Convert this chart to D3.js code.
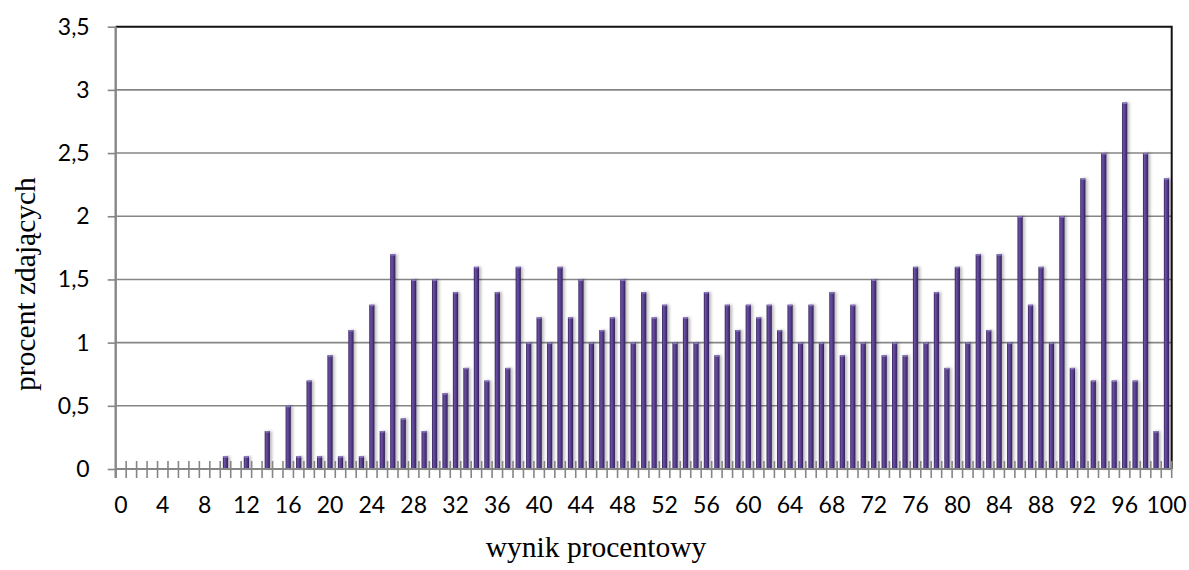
<!DOCTYPE html>
<html>
<head>
<meta charset="utf-8">
<script src="https://cdnjs.cloudflare.com/ajax/libs/d3/7.8.5/d3.min.js"></script>
<style>
  html, body { margin: 0; padding: 0; background: #fff; }
  svg { display: block; }
</style>
</head>
<body>
<svg id="chart" width="1189" height="570"></svg>
<script>
// ---- data ----
const categories = d3.range(0, 101); // wynik procentowy 0..100
const values = [
  0, 0, 0, 0, 0, 0, 0, 0, 0, 0,            // 0-9
  0.1, 0, 0.1, 0, 0.3, 0, 0.5, 0.1, 0.7, 0.1, // 10-19
  0.9, 0.1, 1.1, 0.1, 1.3, 0.3, 1.7, 0.4, 1.5, 0.3, // 20-29
  1.5, 0.6, 1.4, 0.8, 1.6, 0.7, 1.4, 0.8, 1.6, 1.0, // 30-39
  1.2, 1.0, 1.6, 1.2, 1.5, 1.0, 1.1, 1.2, 1.5, 1.0, // 40-49
  1.4, 1.2, 1.3, 1.0, 1.2, 1.0, 1.4, 0.9, 1.3, 1.1, // 50-59
  1.3, 1.2, 1.3, 1.1, 1.3, 1.0, 1.3, 1.0, 1.4, 0.9, // 60-69
  1.3, 1.0, 1.5, 0.9, 1.0, 0.9, 1.6, 1.0, 1.4, 0.8, // 70-79
  1.6, 1.0, 1.7, 1.1, 1.7, 1.0, 2.0, 1.3, 1.6, 1.0, // 80-89
  2.0, 0.8, 2.3, 0.7, 2.5, 0.7, 2.9, 0.7, 2.5, 0.3, // 90-99
  2.3                                       // 100
];
const xTickLabels = d3.range(0, 101, 4);
const yTicks = [0, 0.5, 1, 1.5, 2, 2.5, 3, 3.5];
const xTitle = "wynik procentowy";
const yTitle = "procent zdających";

// ---- layout ----
const svg = d3.select("#chart");
const plot = { left: 115.7, right: 1171.7, top: 26.7, bottom: 469 };
const tickFont = "Lato, 'Open Sans', sans-serif";
const titleFont = "'Liberation Serif', 'Times New Roman', serif";
const gridColor = "#868686";

const x = d3.scaleBand()
  .domain(categories)
  .range([plot.left, plot.right])
  .paddingInner(0.5)
  .paddingOuter(0.25);
const y = d3.scaleLinear().domain([0, 3.5]).range([plot.bottom, plot.top]);

// defs
const defs = svg.append("defs");
const grad = defs.append("linearGradient").attr("id", "barGrad")
  .attr("x1", "0%").attr("x2", "100%").attr("y1", "0%").attr("y2", "0%");
[["0%", "#33215a"], ["30%", "#6a50a2"], ["55%", "#5a3f90"], ["100%", "#302056"]]
  .forEach(([o, c]) => grad.append("stop").attr("offset", o).attr("stop-color", c));
const flt = defs.append("filter").attr("id", "shadow")
  .attr("x", "-100%").attr("y", "-10%").attr("width", "400%").attr("height", "120%");
flt.append("feDropShadow").attr("dx", 2).attr("dy", 0)
  .attr("stdDeviation", 1.6).attr("flood-color", "#000").attr("flood-opacity", 0.28);

// gridlines
svg.append("g").selectAll("line")
  .data(yTicks.filter(v => v > 0 && v < 3.5))
  .join("line")
  .attr("x1", plot.left).attr("x2", plot.right)
  .attr("y1", d => y(d)).attr("y2", d => y(d))
  .attr("stroke", gridColor).attr("stroke-width", 1.6);

// plot border (top & right)
svg.append("path")
  .attr("d", `M${plot.left},${plot.top}H${plot.right}V${plot.bottom}`)
  .attr("fill", "none").attr("stroke", "#111").attr("stroke-width", 2);

// bars
const step = x.step();
const gap = (step - x.bandwidth()) / 2;
const barsG = svg.append("g");
const bars = barsG.selectAll("g")
  .data(categories.map((c, i) => ({ c, v: values[i] })).filter(d => d.v > 0))
  .join("g");
bars.append("rect")
  .attr("x", d => x(d.c))
  .attr("y", d => y(d.v))
  .attr("width", x.bandwidth())
  .attr("height", d => y(0) - y(d.v))
  .attr("fill", "url(#barGrad)")
  .attr("filter", "url(#shadow)");
bars.append("rect")
  .attr("x", d => x(d.c) + 0.5)
  .attr("y", d => y(d.v))
  .attr("width", x.bandwidth() - 1)
  .attr("height", 1.5)
  .attr("fill", "#8b76be");

// x axis line
svg.append("line")
  .attr("x1", plot.left).attr("x2", plot.right)
  .attr("y1", plot.bottom).attr("y2", plot.bottom)
  .attr("stroke", gridColor).attr("stroke-width", 2);

// x boundary ticks (crossing)
const boundaries = categories.map(c => x(c) - gap).concat([x(categories[categories.length - 1]) + x.bandwidth() + gap]);
svg.append("g").selectAll("line")
  .data(boundaries.slice(1))
  .join("line")
  .attr("x1", d => d).attr("x2", d => d)
  .attr("y1", plot.bottom - 8).attr("y2", plot.bottom + 9)
  .attr("stroke", gridColor).attr("stroke-width", 1.6);

// x labels
const xAxis = d3.axisBottom(x).tickValues(xTickLabels).tickSize(0).tickPadding(0);
const gx = svg.append("g").attr("transform", `translate(0,${plot.bottom})`).call(xAxis);
gx.select(".domain").remove();
gx.selectAll("text")
  .attr("y", 44).attr("dy", 0)
  .attr("font-family", tickFont).attr("font-size", 23).attr("fill", "#000");

// y axis
const yAxis = d3.axisLeft(y).tickValues(yTicks)
  .tickFormat(d => String(d).replace(".", ","))
  .tickSizeInner(8).tickSizeOuter(0).tickPadding(18);
const gy = svg.append("g").attr("transform", `translate(${plot.left},0)`).call(yAxis);
gy.select(".domain").attr("stroke", gridColor).attr("stroke-width", 2.4)
  .attr("d", `M0,${plot.top}V${plot.bottom + 9}`);
gy.selectAll(".tick line").attr("stroke", gridColor).attr("stroke-width", 1.6);
gy.selectAll("text")
  .attr("font-family", tickFont).attr("font-size", 23).attr("fill", "#000");

// titles
svg.append("text")
  .attr("x", 596).attr("y", 557)
  .attr("text-anchor", "middle")
  .attr("font-family", titleFont).attr("font-size", 29.5).attr("fill", "#000")
  .text(xTitle);
svg.append("text")
  .attr("transform", "translate(35,284) rotate(-90)")
  .attr("text-anchor", "middle")
  .attr("font-family", titleFont).attr("font-size", 29.5).attr("fill", "#000")
  .text(yTitle);
</script>
</body>
</html>
